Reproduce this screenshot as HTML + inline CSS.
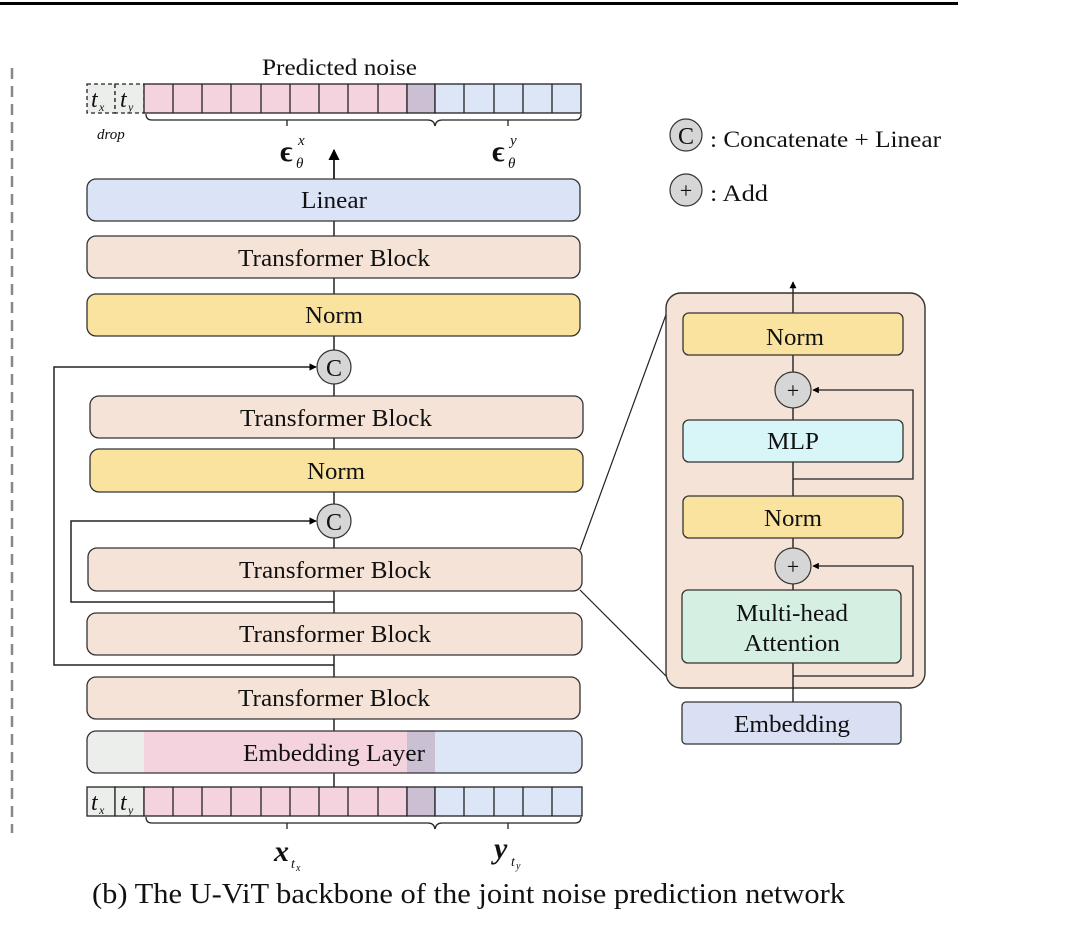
<!DOCTYPE html>
<html><head><meta charset="utf-8"><style>
html,body{margin:0;padding:0;background:#fff;width:1080px;height:940px;overflow:hidden}
svg{display:block}
text{font-family:"Liberation Serif",serif;fill:#111}
</style></head><body>
<svg width="1080" height="940" viewBox="0 0 1080 940" xmlns="http://www.w3.org/2000/svg">
<defs>
<marker id="ar" viewBox="0 0 10 10" refX="9" refY="5" markerWidth="7" markerHeight="7" orient="auto"><path d="M0,0 L10,5 L0,10 z" fill="#000"/></marker>
<marker id="ar2" viewBox="0 0 10 10" refX="9" refY="5" markerWidth="5" markerHeight="5" orient="auto"><path d="M0,0 L10,5 L0,10 z" fill="#000"/></marker>
</defs>
<line x1="0" y1="3.5" x2="958" y2="3.5" stroke="#000" stroke-width="3"/>
<line x1="12" y1="68" x2="12" y2="833" stroke="#888" stroke-width="2.5" stroke-dasharray="11,7"/>

<!-- top tokens -->
<text x="262" y="75" font-size="23" textLength="155" lengthAdjust="spacingAndGlyphs">Predicted noise</text>
<g stroke="#222" stroke-width="1.3">
<rect x="87" y="84" width="28" height="29" fill="#eceeec" stroke-dasharray="4,3"/>
<rect x="115" y="84" width="29" height="29" fill="#eceeec" stroke-dasharray="4,3"/>
<rect x="144" y="84" width="263" height="29" fill="#f4d3de"/>
<rect x="407" y="84" width="28" height="29" fill="#cbbfd3"/>
<rect x="435" y="84" width="146" height="29" fill="#dce6f7"/>
<path d="M173,84v29M202,84v29M231,84v29M261,84v29M290,84v29M319,84v29M348,84v29M378,84v29M464,84v29M494,84v29M523,84v29M552,84v29" fill="none"/>
</g>
<g font-style="italic" font-size="24"><text x="91" y="107">t</text><text x="120" y="107">t</text></g>
<g font-style="italic" font-size="12"><text x="99" y="111">x</text><text x="128" y="111">y</text></g>
<path d="M146,114 q0,6 6,6 H428 q6,0 7,6 q1,-6 7,-6 H575 q6,0 6,-6 M287,120v6 M508,120v6" fill="none" stroke="#222" stroke-width="1.3"/>
<text x="97" y="139" font-size="15" font-style="italic">drop</text>
<text x="280" y="161" font-size="30" font-weight="bold">ϵ</text><text x="298" y="145" font-size="15" font-style="italic">x</text><text x="296" y="168" font-size="15" font-style="italic">θ</text>
<text x="492" y="161" font-size="30" font-weight="bold">ϵ</text><text x="510" y="145" font-size="15" font-style="italic">y</text><text x="508" y="168" font-size="15" font-style="italic">θ</text>
<line x1="334" y1="179" x2="334" y2="150" stroke="#000" stroke-width="1.6" marker-end="url(#ar)"/>

<!-- legend -->
<circle cx="686" cy="135" r="16" fill="#d6d6d6" stroke="#333" stroke-width="1.2"/><text x="686" y="144" font-size="24" text-anchor="middle">C</text>
<text x="710" y="147" font-size="23" textLength="231" lengthAdjust="spacingAndGlyphs">: Concatenate + Linear</text>
<circle cx="686" cy="190" r="16" fill="#d6d6d6" stroke="#333" stroke-width="1.2"/><text x="686" y="198" font-size="22" text-anchor="middle">+</text>
<text x="710" y="201" font-size="23" textLength="58" lengthAdjust="spacingAndGlyphs">: Add</text>

<!-- main spine -->
<line x1="334" y1="221" x2="334" y2="787" stroke="#222" stroke-width="1.5"/>
<polyline points="334,665 54,665 54,367 316,367" fill="none" stroke="#222" stroke-width="1.5" marker-end="url(#ar2)"/>
<polyline points="334,602 71,602 71,521 316,521" fill="none" stroke="#222" stroke-width="1.5" marker-end="url(#ar2)"/>

<g stroke="#333" stroke-width="1.3">
<rect x="87" y="179" width="493" height="42" rx="9" fill="#dae4f6"/>
<rect x="87" y="236" width="493" height="42" rx="9" fill="#f5e3d7"/>
<rect x="87" y="294" width="493" height="42" rx="9" fill="#fae39e"/>
<rect x="90" y="396" width="493" height="42" rx="9" fill="#f5e3d7"/>
<rect x="90" y="449" width="493" height="43" rx="9" fill="#fae39e"/>
<rect x="88" y="548" width="494" height="43" rx="9" fill="#f5e3d7"/>
<rect x="87" y="613" width="495" height="42" rx="9" fill="#f5e3d7"/>
<rect x="87" y="677" width="493" height="42" rx="9" fill="#f5e3d7"/>
</g>
<circle cx="334" cy="367" r="17" fill="#d6d6d6" stroke="#333" stroke-width="1.2"/><text x="334" y="376" font-size="24" text-anchor="middle">C</text>
<circle cx="334" cy="521" r="17" fill="#d6d6d6" stroke="#333" stroke-width="1.2"/><text x="334" y="530" font-size="24" text-anchor="middle">C</text>
<g font-size="24" text-anchor="middle">
<text x="334" y="208" textLength="66" lengthAdjust="spacingAndGlyphs">Linear</text>
<text x="334" y="266" textLength="192" lengthAdjust="spacingAndGlyphs">Transformer Block</text>
<text x="334" y="323" textLength="58" lengthAdjust="spacingAndGlyphs">Norm</text>
<text x="336" y="426" textLength="192" lengthAdjust="spacingAndGlyphs">Transformer Block</text>
<text x="336" y="479" textLength="58" lengthAdjust="spacingAndGlyphs">Norm</text>
<text x="335" y="578" textLength="192" lengthAdjust="spacingAndGlyphs">Transformer Block</text>
<text x="335" y="642" textLength="192" lengthAdjust="spacingAndGlyphs">Transformer Block</text>
<text x="334" y="706" textLength="192" lengthAdjust="spacingAndGlyphs">Transformer Block</text>
</g>

<clipPath id="ec"><rect x="87" y="731" width="495" height="42" rx="9"/></clipPath>
<g clip-path="url(#ec)">
<rect x="87" y="731" width="57" height="42" fill="#eceeec"/>
<rect x="144" y="731" width="263" height="42" fill="#f4d3de"/>
<rect x="407" y="731" width="28" height="42" fill="#cbbfd3"/>
<rect x="435" y="731" width="147" height="42" fill="#dce6f7"/>
</g>
<rect x="87" y="731" width="495" height="42" rx="9" fill="none" stroke="#333" stroke-width="1.3"/>
<text x="334" y="761" font-size="24" text-anchor="middle" textLength="182" lengthAdjust="spacingAndGlyphs">Embedding Layer</text>

<g stroke="#222" stroke-width="1.3">
<rect x="87" y="787" width="28" height="29" fill="#eceeec"/>
<rect x="115" y="787" width="29" height="29" fill="#eceeec"/>
<rect x="144" y="787" width="263" height="29" fill="#f4d3de"/>
<rect x="407" y="787" width="28" height="29" fill="#cbbfd3"/>
<rect x="435" y="787" width="147" height="29" fill="#dce6f7"/>
<path d="M173,787v29M202,787v29M231,787v29M261,787v29M290,787v29M319,787v29M348,787v29M378,787v29M464,787v29M494,787v29M523,787v29M552,787v29" fill="none"/>
</g>
<g font-style="italic" font-size="24"><text x="91" y="810">t</text><text x="120" y="810">t</text></g>
<g font-style="italic" font-size="12"><text x="99" y="814">x</text><text x="128" y="814">y</text></g>
<path d="M146,817 q0,6 6,6 H428 q6,0 7,6 q1,-6 7,-6 H575 q6,0 6,-6 M287,823v6 M508,823v6" fill="none" stroke="#222" stroke-width="1.3"/>
<text x="274" y="861" font-size="30" font-weight="bold" font-style="italic">x</text><text x="291" y="868" font-size="14" font-style="italic">t</text><text x="296" y="871" font-size="10" font-style="italic">x</text>
<text x="494" y="858" font-size="30" font-weight="bold" font-style="italic">y</text><text x="511" y="866" font-size="14" font-style="italic">t</text><text x="516" y="869" font-size="10" font-style="italic">y</text>

<line x1="580" y1="550" x2="667" y2="312" stroke="#222" stroke-width="1.2"/>
<line x1="580" y1="590" x2="668" y2="678" stroke="#222" stroke-width="1.2"/>

<rect x="666" y="293" width="259" height="395" rx="15" fill="#f5e3d7" stroke="#333" stroke-width="1.4"/>
<line x1="793" y1="744" x2="793" y2="282" stroke="#222" stroke-width="1.4" marker-end="url(#ar2)"/>
<polyline points="793,676 913,676 913,566 813,566" fill="none" stroke="#222" stroke-width="1.3" marker-end="url(#ar2)"/>
<polyline points="793,479 913,479 913,390 813,390" fill="none" stroke="#222" stroke-width="1.3" marker-end="url(#ar2)"/>
<g stroke="#333" stroke-width="1.3">
<rect x="683" y="313" width="220" height="42" rx="6" fill="#fae39e"/>
<rect x="683" y="420" width="220" height="42" rx="6" fill="#d8f5f7"/>
<rect x="683" y="496" width="220" height="42" rx="6" fill="#fae39e"/>
<rect x="682" y="590" width="219" height="73" rx="6" fill="#d6efe3"/>
<rect x="682" y="702" width="219" height="42" rx="4" fill="#dae0f3"/>
</g>
<circle cx="793" cy="390" r="18" fill="#d6d6d6" stroke="#333" stroke-width="1.2"/><text x="793" y="398" font-size="22" text-anchor="middle">+</text>
<circle cx="793" cy="566" r="18" fill="#d6d6d6" stroke="#333" stroke-width="1.2"/><text x="793" y="574" font-size="22" text-anchor="middle">+</text>
<g font-size="24" text-anchor="middle">
<text x="795" y="345" textLength="58" lengthAdjust="spacingAndGlyphs">Norm</text>
<text x="793" y="449" textLength="52" lengthAdjust="spacingAndGlyphs">MLP</text>
<text x="793" y="526" textLength="58" lengthAdjust="spacingAndGlyphs">Norm</text>
<text x="792" y="621" textLength="112" lengthAdjust="spacingAndGlyphs">Multi-head</text>
<text x="792" y="651" textLength="96" lengthAdjust="spacingAndGlyphs">Attention</text>
<text x="792" y="732" textLength="116" lengthAdjust="spacingAndGlyphs">Embedding</text>
</g>

<text x="92" y="903" font-size="28" textLength="753" lengthAdjust="spacingAndGlyphs">(b) The U-ViT backbone of the joint noise prediction network</text>
</svg>
</body></html>
